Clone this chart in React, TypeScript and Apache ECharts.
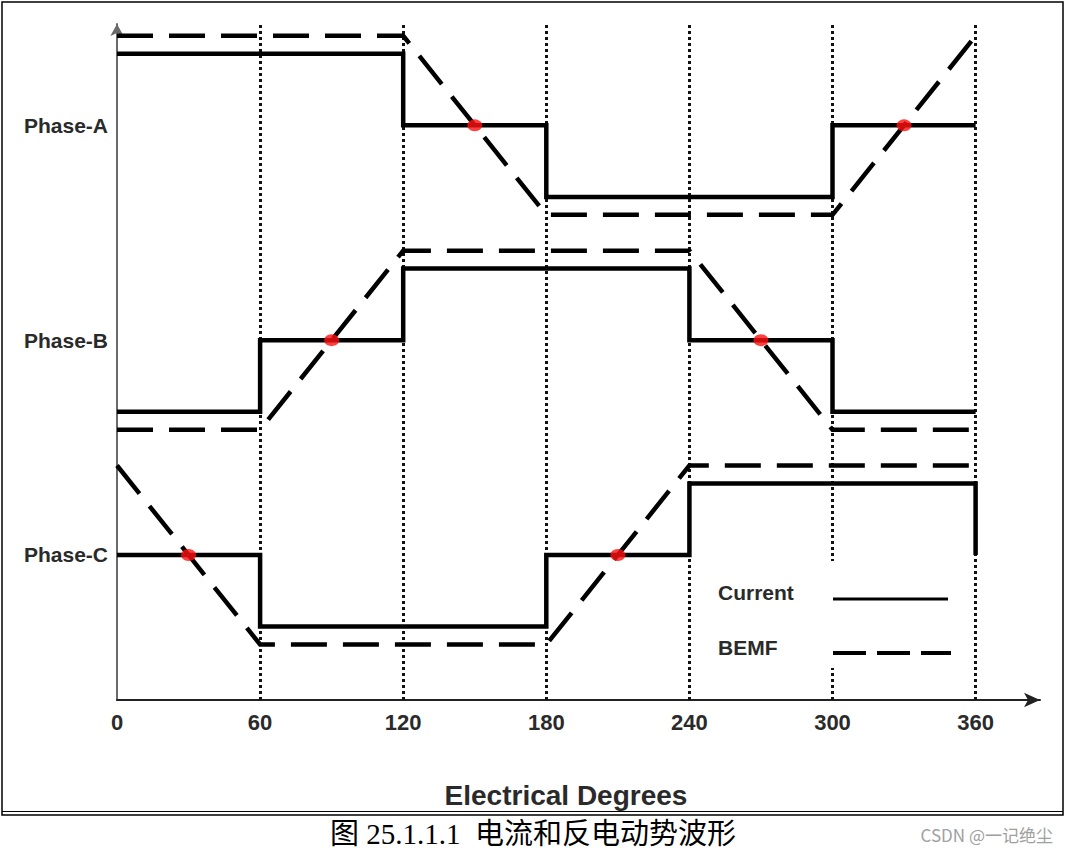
import React, { useEffect, useRef } from 'react';
import * as echarts from 'echarts';

// ---- data ----
const xTicks = [0, 60, 120, 180, 240, 300, 360];
const phaseNames = ['Phase-A', 'Phase-B', 'Phase-C'];
const phaseLevels = [12, 6, 0];

const currentA = [[0, 14], [120, 14], [120, 12], [180, 12], [180, 10], [300, 10], [300, 12], [360, 12]];
const bemfA = [[0, 14.5], [120, 14.5], [180, 9.5], [300, 9.5], [360, 14.5]];
const currentB = [[0, 4], [60, 4], [60, 6], [120, 6], [120, 8], [240, 8], [240, 6], [300, 6], [300, 4], [360, 4]];
const bemfB = [[0, 3.5], [60, 3.5], [120, 8.5], [240, 8.5], [300, 3.5], [360, 3.5]];
const currentC = [[0, 0], [60, 0], [60, -2], [180, -2], [180, 0], [240, 0], [240, 2], [360, 2], [360, 0]];
const bemfC = [[0, 2.5], [60, -2.5], [180, -2.5], [240, 2.5], [360, 2.5]];
const crossings = [[150, 12], [330, 12], [90, 6], [270, 6], [30, 0], [210, 0]];
const guideDegrees = [60, 120, 180, 240, 300, 360];

const legendItems = ['Current', 'BEMF'];
const xTitle = 'Electrical Degrees';
const caption = '图 25.1.1.1  电流和反电动势波形';
const watermark = 'CSDN @一记绝尘';

const Y_MIN = -4.05;
const Y_MAX = 14.83;
const X_MAX = 387;

const SANS = 'Arial, "Liberation Sans", sans-serif';
const DASH = [36, 16];

export default function App() {
  const ref = useRef<HTMLDivElement>(null);

  useEffect(() => {
    if (!ref.current) return;
    const chart = echarts.init(ref.current, null, { renderer: 'svg' });

    const curStyle = { color: '#000', width: 4.5, type: 'solid' as const, join: 'miter' as const };
    const bemfStyle = { color: '#000', width: 4.5, type: DASH, cap: 'butt' as const, join: 'miter' as const };

    const lineSeries = (name: string, data: number[][], style: any, extra: any = {}) => ({
      type: 'line',
      name,
      data,
      showSymbol: false,
      symbol: 'none',
      lineStyle: style,
      z: 5,
      silent: true,
      clip: false,
      ...extra,
    });

    const guides = {
      silent: true,
      symbol: ['none', 'none'],
      label: { show: false },
      z: 1,
      lineStyle: { color: '#111', width: 3, type: [3, 3] },
      data: guideDegrees.map((d) => [
        { coord: [d, Y_MIN] },
        { coord: [d, Y_MAX] },
      ]),
    };

    const option: any = {
      animation: false,
      backgroundColor: '#fff',
      grid: { left: 117, right: 1070 - 117 - 923, top: 24, bottom: 151 },
      xAxis: {
        type: 'value',
        min: 0,
        max: X_MAX,
        interval: 60,
        axisLine: {
          show: true,
          onZero: false,
          lineStyle: { color: '#222', width: 2 },
          symbol: ['none', 'arrow'],
          symbolSize: [11, 16],
        },
        axisTick: { show: false },
        splitLine: { show: false },
        axisLabel: {
          showMaxLabel: false,
          margin: 11,
          fontSize: 22,
          fontWeight: 'bold',
          fontFamily: SANS,
          color: '#2a2a2a',
          formatter: (v: number) => (xTicks.includes(v) ? String(v) : ''),
        },
      },
      yAxis: {
        type: 'value',
        min: Y_MIN,
        max: Y_MAX,
        axisLine: {
          show: true,
          onZero: false,
          lineStyle: { color: '#6a6a6a', width: 2 },
          symbol: ['none', 'arrow'],
          symbolSize: [10, 12],
        },
        axisTick: { show: false },
        splitLine: { show: false },
        axisLabel: {
          customValues: phaseLevels,
          margin: 9,
          fontSize: 21,
          fontWeight: 'bold',
          fontFamily: SANS,
          color: '#2a2a2a',
          formatter: (v: number) => {
            const i = phaseLevels.indexOf(v);
            return i >= 0 ? phaseNames[i] : '';
          },
        },
      },
      series: [
        lineSeries('Current A', currentA, curStyle, { markLine: guides }),
        lineSeries('BEMF A', bemfA, bemfStyle),
        lineSeries('Current B', currentB, curStyle),
        lineSeries('BEMF B', bemfB, bemfStyle),
        lineSeries('Current C', currentC, curStyle),
        lineSeries('BEMF C', bemfC, bemfStyle),
        {
          type: 'scatter',
          name: 'crossings',
          data: crossings,
          symbol: 'circle',
          symbolSize: [15, 12],
          itemStyle: { color: '#ff1010' },
          z: 10,
          silent: true,
        },
      ],
      graphic: [
        {
          type: 'rect',
          z: 100,
          shape: { x: 2, y: 2, width: 1061, height: 813 },
          style: { fill: 'none', stroke: '#000', lineWidth: 1.5 },
        },
        {
          type: 'line',
          z: 100,
          shape: { x1: 2, y1: 811.5, x2: 1063, y2: 811.5 },
          style: { stroke: '#000', lineWidth: 1.2 },
        },
        {
          type: 'rect',
          z: 50,
          shape: { x: 700, y: 561, width: 258, height: 107 },
          style: { fill: '#fff' },
        },
        {
          type: 'text',
          z: 60,
          x: 718,
          y: 592,
          style: { text: legendItems[0], font: `bold 21px ${SANS}`, fill: '#2a2a2a', align: 'left', verticalAlign: 'middle' },
        },
        {
          type: 'text',
          z: 60,
          x: 718,
          y: 647,
          style: { text: legendItems[1], font: `bold 21px ${SANS}`, fill: '#2a2a2a', align: 'left', verticalAlign: 'middle' },
        },
        {
          type: 'line',
          z: 60,
          shape: { x1: 833, y1: 599, x2: 948, y2: 599 },
          style: { stroke: '#000', lineWidth: 3 },
        },
        {
          type: 'line',
          z: 60,
          shape: { x1: 833, y1: 653, x2: 951, y2: 653 },
          style: { stroke: '#000', lineWidth: 4, lineDash: [33, 11] },
        },
        {
          type: 'text',
          z: 60,
          x: 566,
          y: 795,
          style: { text: xTitle, font: `bold 28px ${SANS}`, fill: '#2a2a2a', align: 'center', verticalAlign: 'middle' },
        },
        {
          type: 'text',
          z: 60,
          x: 533,
          y: 834,
          style: {
            text: caption,
            font: `29px "Liberation Serif", "Noto Sans CJK SC", serif`,
            fill: '#000',
            align: 'center',
            verticalAlign: 'middle',
          },
        },
        {
          type: 'text',
          z: 60,
          x: 1053,
          y: 834,
          style: {
            text: watermark,
            font: `17px "Noto Sans CJK SC", "Noto Sans", sans-serif`,
            fill: '#a0a0a0',
            align: 'right',
            verticalAlign: 'middle',
          },
        },
      ],
    };

    chart.setOption(option);
    return () => chart.dispose();
  }, []);

  return (
    <div
      ref={ref}
      style={{ position: 'absolute', left: 0, top: 0, width: 1070, height: 851, background: '#fff' }}
    />
  );
}
